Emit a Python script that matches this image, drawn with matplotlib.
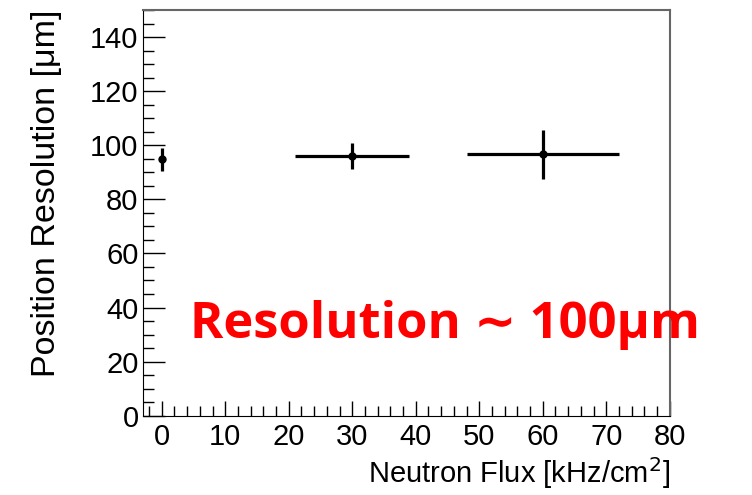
import matplotlib
matplotlib.use('Agg')
import matplotlib.pyplot as plt
from matplotlib.ticker import MultipleLocator

# neutron flux points [kHz/cm2] and position resolution [um]
flux = [0, 30, 60]
flux_err = [0, 9, 12]
resolution = [94.8, 95.9, 96.7]
resolution_err = [4.2, 4.8, 9.1]

plt.rcParams['font.family'] = ['Liberation Sans', 'DejaVu Sans']

fig = plt.figure(figsize=(7.52, 4.95), dpi=100)
ax = fig.add_axes([142.7/752, 1 - 415.7/495, (669.7 - 142.7)/752, (415.7 - 10)/495])

ax.errorbar(flux, resolution, xerr=flux_err, yerr=resolution_err,
            fmt='o', color='black', ms=5, elinewidth=2.3, capsize=0)

ax.set_xlim(-3, 80)
ax.set_ylim(0, 150)
ax.xaxis.set_major_locator(MultipleLocator(10))
ax.xaxis.set_minor_locator(MultipleLocator(2))
ax.yaxis.set_major_locator(MultipleLocator(20))
ax.yaxis.set_minor_locator(MultipleLocator(5))
ax.set_yticks([0, 20, 40, 60, 80, 100, 120, 140])

ax.tick_params(which='both', direction='in', top=False, right=False, labelsize=21, width=1)
ax.tick_params(which='major', axis='y', length=16, pad=3)
ax.tick_params(which='minor', axis='y', length=8)
ax.tick_params(which='major', axis='x', length=11, pad=5)
ax.tick_params(which='minor', axis='x', length=7)

ax.spines['top'].set_color('#666666')
ax.spines['right'].set_color('#666666')
ax.spines['top'].set_linewidth(1.5)
ax.spines['right'].set_linewidth(1.5)

ax.set_xlabel('Neutron Flux [kHz/cm$^2$]', fontsize=21, loc='right', labelpad=3)
ax.set_ylabel('Position Resolution [μm]', fontsize=24.5, loc='top', labelpad=20)

fig.text(190/752, 1 - 338/495, 'Resolution ∼ 100μm', color='#ff0000',
         fontsize=36.5, fontweight='bold', family=['Open Sans', 'DejaVu Sans'], va='baseline')

fig.savefig('out.png', dpi=100)
